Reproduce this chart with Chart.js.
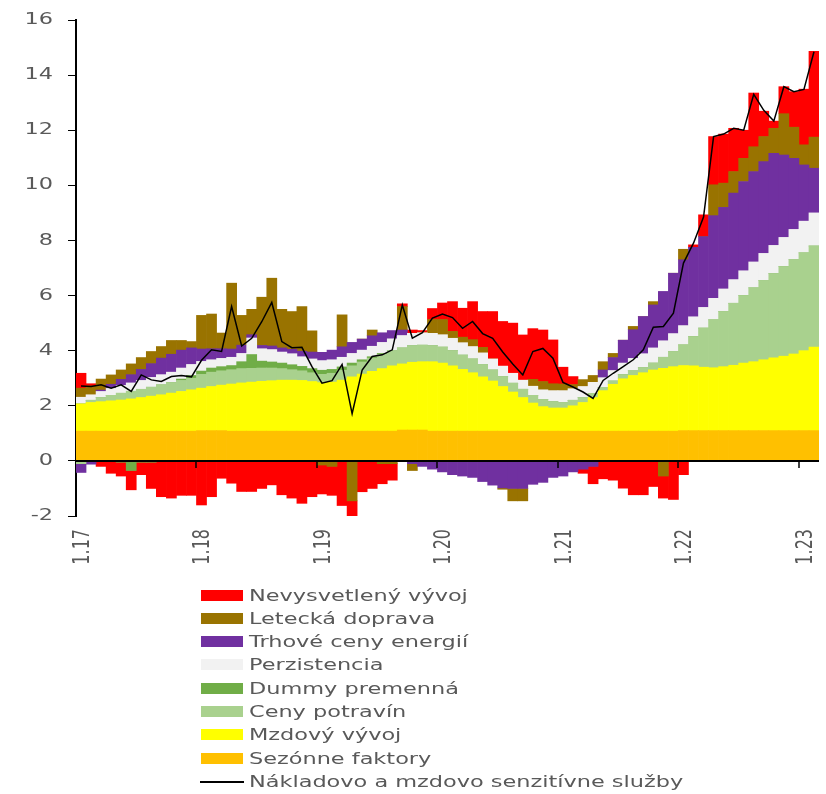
<!DOCTYPE html>
<html>
<head>
<meta charset="utf-8">
<script src="https://cdn.jsdelivr.net/npm/chart.js@4/dist/chart.umd.min.js"></script>
<style>
  html, body { margin: 0; padding: 0; background: #fff; }
  body { width: 826px; height: 794px; overflow: hidden; position: relative; font-family: "DejaVu Sans", Verdana, sans-serif; }
  #chart { position: absolute; left: 0; top: 0; }
  #legend { position: absolute; left: 0; top: 0; width: 826px; height: 794px; pointer-events: none; }
  .row { position: absolute; left: 0; height: 23px; }
  .swatch { position: absolute; left: 201px; width: 42px; height: 11px; top: 6px; }
  .stroke { position: absolute; left: 200px; width: 44px; height: 2px; top: 11px; background: #000; }
  .txt { position: absolute; left: 249px; top: 0; line-height: 23px; font-size: 16px; color: #595959;
         white-space: nowrap; transform: scaleX(1.4); transform-origin: 0 50%; }
</style>
</head>
<body>
<canvas id="chart" width="826" height="794"></canvas>
<div id="legend"></div>
<script>
// Months from 1.17 to 2.23
const categories = [
  "1.17","2.17","3.17","4.17","5.17","6.17","7.17","8.17","9.17","10.17","11.17","12.17",
  "1.18","2.18","3.18","4.18","5.18","6.18","7.18","8.18","9.18","10.18","11.18","12.18",
  "1.19","2.19","3.19","4.19","5.19","6.19","7.19","8.19","9.19","10.19","11.19","12.19",
  "1.20","2.20","3.20","4.20","5.20","6.20","7.20","8.20","9.20","10.20","11.20","12.20",
  "1.21","2.21","3.21","4.21","5.21","6.21","7.21","8.21","9.21","10.21","11.21","12.21",
  "1.22","2.22","3.22","4.22","5.22","6.22","7.22","8.22","9.22","10.22","11.22","12.22",
  "1.23","2.23"
];
const xTickLabels = ["1.17","1.18","1.19","1.20","1.21","1.22","1.23"];
const yTickValues = [-2, 0, 2, 4, 6, 8, 10, 12, 14, 16];

// Contributions (p.b.), stacked from the bottom up
const sezonne = [
  1.08,1.08,1.08,1.08,1.08,1.08,1.08,1.08,1.08,1.08,1.08,1.08,
  1.10,1.10,1.10,1.08,1.08,1.08,1.08,1.08,1.08,1.08,1.08,1.08,
  1.08,1.08,1.08,1.08,1.08,1.08,1.08,1.08,1.12,1.12,1.12,1.08,
  1.08,1.08,1.08,1.08,1.08,1.08,1.08,1.08,1.08,1.08,1.08,1.08,
  1.08,1.08,1.08,1.08,1.08,1.08,1.08,1.08,1.08,1.08,1.08,1.08,
  1.10,1.10,1.10,1.10,1.10,1.10,1.10,1.10,1.10,1.10,1.10,1.10,
  1.10,1.10
];
const mzdy = [
  0.99,1.04,1.07,1.10,1.13,1.17,1.22,1.27,1.32,1.38,1.44,1.50,
  1.54,1.60,1.65,1.71,1.75,1.78,1.81,1.83,1.85,1.85,1.84,1.80,
  1.76,1.78,1.85,1.97,2.07,2.17,2.27,2.37,2.40,2.46,2.48,2.52,
  2.47,2.37,2.24,2.12,1.97,1.82,1.62,1.42,1.22,1.02,0.89,0.84,
  0.84,0.92,1.04,1.22,1.47,1.70,1.90,2.02,2.12,2.22,2.28,2.34,
  2.36,2.35,2.30,2.28,2.32,2.37,2.45,2.50,2.57,2.64,2.70,2.78,
  2.90,3.03
];
const potraviny = [
  -0.10,0.08,0.15,0.20,0.25,0.28,0.30,0.33,0.36,0.38,0.40,0.42,
  0.50,0.52,0.52,0.52,0.52,0.50,0.48,0.46,0.42,0.38,0.35,0.32,
  0.30,0.32,0.36,0.40,0.44,0.48,0.52,0.56,0.58,0.60,0.60,0.58,
  0.58,0.55,0.52,0.50,0.45,0.40,0.36,0.32,0.30,0.28,0.25,0.23,
  0.20,0.20,0.18,0.15,0.12,0.12,0.15,0.17,0.19,0.25,0.40,0.55,
  0.75,1.06,1.42,1.74,2.00,2.25,2.45,2.68,2.88,3.06,3.25,3.42,
  3.55,3.67
];
const dummy = [
  0,0,0,0,-0.05,-0.35,-0.05,-0.05,0,0,0.05,0.10,
  0.12,0.15,0.15,0.15,0.25,0.50,0.25,0.22,0.20,0.18,0.16,0.15,
  0.15,0.14,0.12,0.10,0.08,0.05,0.03,0,0,0,0,0,
  0,0,0,0,0,0,0,0,0,0,0,0,
  0,0,0,0,0,0,0,0,0,0,0,0,
  0,0,0,0,0,0,0,0,0,0,0,0,
  0,0
];
const perzistencia = [
  0.24,0.20,0.22,0.25,0.28,0.30,0.32,0.35,0.37,0.38,0.40,0.40,
  0.35,0.30,0.30,0.30,0.30,0.60,0.45,0.45,0.40,0.40,0.35,0.35,
  0.35,0.35,0.35,0.35,0.35,0.38,0.40,0.42,0.45,0.45,0.45,0.45,
  0.45,0.45,0.45,0.45,0.42,0.40,0.38,0.36,0.33,0.33,0.36,0.40,
  0.43,0.42,0.40,0.40,0.35,0.38,0.42,0.45,0.50,0.55,0.60,0.65,
  0.70,0.72,0.75,0.78,0.82,0.86,0.90,0.94,0.98,1.02,1.06,1.10,
  1.15,1.20
];
const energie = [
  -0.32,-0.12,0.05,0.15,0.22,0.30,0.40,0.50,0.60,0.65,0.65,0.60,
  0.45,0.40,0.35,0.30,0.30,0.12,0.12,0.13,0.15,0.16,0.20,0.25,
  0.30,0.35,0.38,0.40,0.40,0.38,0.35,0.30,0.20,-0.10,-0.20,-0.30,
  -0.40,-0.50,-0.55,-0.60,-0.75,-0.88,-0.98,-1.00,-1.00,-0.85,-0.78,-0.60,
  -0.55,-0.40,-0.30,-0.20,0.28,0.47,0.83,1.04,1.35,1.56,1.79,2.19,
  2.39,2.52,2.57,3.00,2.96,3.14,3.24,3.28,3.33,3.34,2.99,2.58,
  2.04,1.62
];
const letecka = [
  0.33,0.32,0.40,0.34,0.34,0.39,0.43,0.44,0.42,0.50,0.35,0.23,
  1.22,1.26,0.57,2.39,1.08,0.92,1.75,2.46,1.40,1.37,1.62,0.77,
  -0.15,-0.20,1.16,-1.45,0,0.21,-0.10,-0.10,0.85,-0.25,0,0.50,
  0.55,0.25,0.20,0.25,0.20,0,-0.05,-0.45,-0.45,0.25,0.30,0.25,
  0.24,0.15,0.25,0.25,0.30,0.15,0,0.12,0,0.12,-0.55,0,
  0.38,0,0,1.12,0.88,0.78,0.84,0.90,0.91,0.91,1.50,1.13,
  0.73,1.13
];
const nevysvetleny = [
  0.54,0.08,-0.20,-0.45,-0.50,-0.70,-0.45,-0.95,-1.30,-1.35,-1.25,-1.25,
  -1.60,-1.30,-0.63,-0.81,-1.11,-1.11,-1.00,-0.87,-1.23,-1.35,-1.54,-1.30,
  -1.05,-1.05,-1.62,-1.05,-1.12,-1.00,-0.73,-0.60,0.10,0.12,0.08,0.40,
  0.60,1.08,1.05,1.38,1.30,1.72,1.62,1.82,1.64,1.84,1.87,1.59,
  0.61,0.29,-0.15,-0.63,-0.65,-0.70,-0.99,-1.23,-1.23,-0.93,-0.80,-1.40,
  -0.50,0.09,0.79,1.75,1.78,1.57,1.02,1.95,0.92,0.26,0.98,1.29,
  2.02,3.11
];
// Cost- and wage-sensitive services, y/y (%)
const sluzby = [
  2.72,2.70,2.76,2.64,2.76,2.52,3.12,2.94,2.88,3.06,3.10,3.05,
  3.65,4.03,3.97,5.60,4.17,4.45,5.05,5.75,4.33,4.11,4.12,3.42,
  2.82,2.91,3.50,1.71,3.30,3.79,3.85,4.03,5.66,4.45,4.65,5.18,
  5.33,5.20,4.81,5.06,4.62,4.45,3.95,3.52,3.12,3.97,4.08,3.73,
  2.85,2.68,2.50,2.27,2.92,3.18,3.42,3.67,4.03,4.85,4.88,5.36,
  7.18,7.90,8.85,11.77,11.86,12.07,12.00,13.30,12.72,12.33,13.58,13.40,
  13.48,14.85
];

const barSeries = [
  { label: "Sezónne faktory",      data: sezonne,      color: "#FFC000" },
  { label: "Mzdový vývoj",         data: mzdy,         color: "#FFFF00" },
  { label: "Ceny potravín",        data: potraviny,    color: "#A9D18E" },
  { label: "Dummy premenná",       data: dummy,        color: "#70AD47" },
  { label: "Perzistencia",         data: perzistencia, color: "#F2F2F2" },
  { label: "Trhové ceny energií",  data: energie,      color: "#7030A0" },
  { label: "Letecká doprava",      data: letecka,      color: "#997300" },
  { label: "Nevysvetlený vývoj",   data: nevysvetleny, color: "#FF0000" }
];
const lineSeries = { label: "Nákladovo a mzdovo senzitívne služby", data: sluzby, color: "#000000" };

const FONT = '16px "DejaVu Sans", Verdana, sans-serif';
const TEXT = "#595959";
const STRETCH = 1.4;

// Zero line, category ticks on it, and the stretched axis labels
const axisDecor = {
  id: "axisDecor",
  afterDatasetsDraw(chart) {
    const { ctx, chartArea: a, scales: { x, y } } = chart;
    const y0 = y.getPixelForValue(0);
    const step = x.getPixelForValue(1) - x.getPixelForValue(0);
    ctx.save();
    ctx.strokeStyle = "#000";
    ctx.lineWidth = 2;
    ctx.beginPath();
    ctx.moveTo(a.left, y0);
    ctx.lineTo(a.right, y0);
    ctx.stroke();
    ctx.lineWidth = 1.5;
    xTickLabels.forEach(lbl => {
      const i = categories.indexOf(lbl);
      if (i <= 0) return;
      const px = Math.round(x.getPixelForValue(i) - step / 2);
      ctx.beginPath();
      ctx.moveTo(px, y0);
      ctx.lineTo(px, y0 + 7);
      ctx.stroke();
    });
    ctx.restore();
  },
  afterDraw(chart) {
    const { ctx, chartArea: a, scales: { x, y } } = chart;
    ctx.save();
    ctx.font = FONT;
    ctx.fillStyle = TEXT;
    ctx.textBaseline = "middle";
    ctx.textAlign = "right";
    yTickValues.forEach(v => {
      const py = y.getPixelForValue(v);
      ctx.save();
      ctx.translate(a.left - 23, py);
      ctx.scale(STRETCH, 1);
      ctx.fillText(String(v), 0, 0);
      ctx.restore();
    });
    xTickLabels.forEach(lbl => {
      const i = categories.indexOf(lbl);
      const px = x.getPixelForValue(i) + 2;
      ctx.save();
      ctx.translate(px, a.bottom + 13);
      ctx.scale(STRETCH, 1);
      ctx.rotate(-Math.PI / 2);
      ctx.fillText(lbl, 0, 0);
      ctx.restore();
    });
    ctx.restore();
  }
};

const datasets = barSeries.map(s => ({
  type: "bar",
  label: s.label,
  data: s.data,
  backgroundColor: s.color,
  borderWidth: 0,
  barPercentage: 1.0,
  categoryPercentage: 1.0,
  stack: "contrib",
  order: 1
}));
datasets.push({
  type: "line",
  label: lineSeries.label,
  data: lineSeries.data,
  borderColor: lineSeries.color,
  borderWidth: 1.5,
  pointRadius: 0,
  tension: 0,
  fill: false,
  stack: "line",
  order: 0
});

new Chart(document.getElementById("chart"), {
  type: "bar",
  data: { labels: categories, datasets },
  options: {
    responsive: false,
    animation: false,
    layout: { padding: { top: 20, right: 7, left: 0, bottom: 0 } },
    plugins: { legend: { display: false }, tooltip: { enabled: false } },
    scales: {
      x: {
        stacked: true,
        grid: { display: false },
        border: { display: false },
        ticks: { display: false },
        afterFit(scale) { scale.height = 278; }
      },
      y: {
        stacked: true,
        min: -2,
        max: 16,
        z: 1,
        afterBuildTicks(scale) { scale.ticks = yTickValues.map(v => ({ value: v })); },
        ticks: { display: false },
        grid: { drawOnChartArea: false, drawTicks: true, tickLength: 8, color: "#000", lineWidth: 1 },
        border: { display: true, color: "#000", width: 2 },
        afterFit(scale) { scale.width = 76; }
      }
    }
  },
  plugins: [axisDecor]
});

// Legend: series listed top-down as in the stack, the line last
const legendItems = barSeries.slice().reverse().map(s => ({ label: s.label, color: s.color, kind: "box" }));
legendItems.push({ label: lineSeries.label, color: lineSeries.color, kind: "line" });
const legendEl = document.getElementById("legend");
legendItems.forEach((it, k) => {
  const row = document.createElement("div");
  row.className = "row";
  row.style.top = (583.5 + k * 23.33) + "px";
  const mark = document.createElement("div");
  if (it.kind === "box") {
    mark.className = "swatch";
    mark.style.background = it.color;
  } else {
    mark.className = "stroke";
    mark.style.background = it.color;
  }
  const txt = document.createElement("span");
  txt.className = "txt";
  txt.textContent = it.label;
  row.appendChild(mark);
  row.appendChild(txt);
  legendEl.appendChild(row);
});
</script>
</body>
</html>
